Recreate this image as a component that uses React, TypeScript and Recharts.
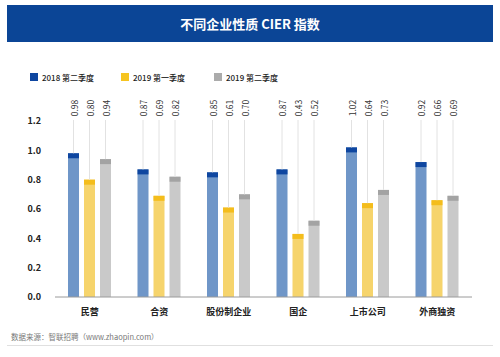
import { BarChart, Bar, XAxis, YAxis, LabelList } from "recharts";

const categories = ["民营", "合资", "股份制企业", "国企", "上市公司", "外商独资"];
const q2of2018 = [0.98, 0.87, 0.85, 0.87, 1.02, 0.92];
const q1of2019 = [0.8, 0.69, 0.61, 0.43, 0.64, 0.66];
const q2of2019 = [0.94, 0.82, 0.7, 0.52, 0.73, 0.69];
const yTicks = [0, 0.2, 0.4, 0.6, 0.8, 1.0, 1.2];

const seriesNames = ["2018 第二季度", "2019 第一季度", "2019 第二季度"];

const data = categories.map((name, i) => ({
  name,
  a: q2of2018[i],
  b: q1of2019[i],
  c: q2of2019[i],
}));

const FONT = '"Noto Sans CJK SC", "Noto Sans", sans-serif';

const series = [
  { key: "a", body: "#6f96c8", cap: "#0e46a0", legend: "#0e46a0" },
  { key: "b", body: "#f6d46c", cap: "#f4bd1c", legend: "#f6c420" },
  { key: "c", body: "#c9c9c9", cap: "#a3a3a3", legend: "#ababab" },
];

function capShape(body: string, cap: string) {
  return (props: any) => {
    const { x, y, width, height } = props;
    if (!height || height <= 0) return <g />;
    const capH = Math.min(5, height);
    return (
      <g>
        <rect x={x} y={y} width={width} height={height} fill={body} />
        <rect x={x} y={y} width={width} height={capH} fill={cap} />
      </g>
    );
  };
}

const valueLabel = (props: any) => {
  const { x, y, width, value } = props;
  const cx = x + width / 2;
  return (
    <g>
      <line x1={cx} y1={120} x2={cx} y2={y} stroke="#e2e2e2" strokeWidth={1} />
      <text
        x={cx}
        y={108}
        transform={`rotate(-90 ${cx} 108)`}
        textAnchor="middle"
        dominantBaseline="central"
        fontSize={8.5}
        fill="#333"
        fontFamily={FONT}
      >
        {Number(value).toFixed(2)}
      </text>
    </g>
  );
};

export default function App() {
  return (
    <div
      style={{
        position: "absolute",
        left: 0,
        top: 0,
        width: 500,
        height: 357,
        background: "#fff",
        fontFamily: FONT,
      }}
    >
      <div
        style={{
          position: "absolute",
          left: 7,
          top: 5,
          width: 486,
          height: 37,
          background: "#0b4596",
          color: "#fff",
          fontSize: 13,
          fontWeight: 700,
          lineHeight: "37px",
          textAlign: "center",
        }}
      >
        不同企业性质 CIER 指数
      </div>

      {seriesNames.map((s, i) => (
        <div
          key={s}
          style={{
            position: "absolute",
            left: [30, 121, 214][i],
            top: 72,
            height: 10,
            display: "flex",
            alignItems: "center",
            fontSize: 8,
            fontWeight: 500,
            color: "#222",
          }}
        >
          <span
            style={{
              display: "inline-block",
              width: 8,
              height: 8,
              background: series[i].legend,
              marginRight: 4,
            }}
          />
          {s}
        </div>
      ))}

      <div style={{ position: "absolute", left: 0, top: 0 }}>
        <BarChart
          width={500}
          height={357}
          data={data}
          margin={{ top: 121, right: 28, bottom: 30, left: 0 }}
          barSize={11}
          barGap={5}
        >
          <XAxis
            dataKey="name"
            height={30}
            axisLine={{ stroke: "#9a9a9a" }}
            tickLine={false}
            tickSize={0}
            tickMargin={12}
            tick={{ fontSize: 9, fill: "#222", fontFamily: FONT, fontWeight: 600 }}
            interval={0}
          />
          <YAxis
            width={55}
            domain={[0, 1.2]}
            ticks={yTicks}
            axisLine={false}
            tickLine={false}
            tickSize={0}
            tickMargin={14}
            tickFormatter={(v: number) => v.toFixed(1)}
            tick={{ fontSize: 9, fill: "#222", fontFamily: FONT, fontWeight: 600 }}
          />
          {series.map((s) => (
            <Bar
              key={s.key}
              dataKey={s.key}
              isAnimationActive={false}
              shape={capShape(s.body, s.cap)}
            >
              <LabelList dataKey={s.key} content={valueLabel} />
            </Bar>
          ))}
        </BarChart>
      </div>

      <div
        style={{
          position: "absolute",
          left: 11,
          top: 331,
          fontSize: 7.5,
          color: "#777",
        }}
      >
        数据来源：智联招聘（www.zhaopin.com）
      </div>
      <div
        style={{
          position: "absolute",
          left: 7,
          top: 345,
          width: 486,
          height: 1,
          background: "#e0e0e0",
        }}
      />
    </div>
  );
}
